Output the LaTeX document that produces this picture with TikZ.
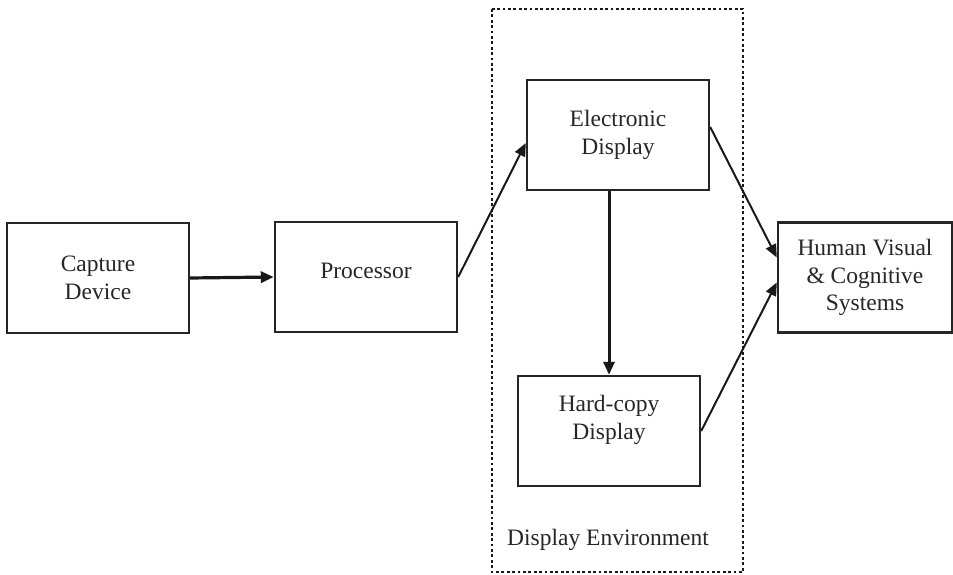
\documentclass[tikz,border=0pt]{standalone}
\usepackage{fontspec}
\setmainfont{Liberation Serif}
\usetikzlibrary{arrows.meta,calc}
\begin{document}
\begin{tikzpicture}[x=1pt,y=-1pt,
  box/.style={draw=black!85,line width=2.4pt,minimum width=182pt,minimum height=110pt,inner sep=0pt,
    align=center,font=\fontsize{23.5}{27.5}\selectfont,text=black!85},
  txt/.style={align=center,font=\fontsize{23.5}{27.5}\selectfont,text=black!85,inner sep=0pt},
  conn/.style={line width=2pt,draw=black!90,-{Triangle[length=13pt,width=11pt]}},
  envbox/.style={line width=2.8pt,dash pattern=on 2.8pt off 2.6pt,draw=black!90}]
\useasboundingbox (0,0) rectangle (953,575);
\draw[envbox] (492,9) rectangle (743,572);
\node[box] (cap) at (98,278) {Capture\\Device};
\node[box] (proc) at (366,277) {};
\node[txt] (proct) at (366,271) {Processor};
\node[box] (elec) at (618,135) {Electronic\\Display};
\node[box] (hard) at (609,431) {};
\node[txt] (hardt) at (609,420) {Hard-copy\\Display};
\node[box,minimum width=174pt] (hum) at (865,277.5) {Human Visual\\\& Cognitive\\Systems};
\node[txt] (env) at (608,540) {Display Environment};
\draw[conn,line width=3.2pt] (cap.east) -- (proc.west);
\draw[conn] (proc.east) -- ([yshift=-8pt]elec.west);
\draw[conn,line width=3pt] (elec.south -| hard.north) -- (hard.north);
\draw[conn] ([yshift=8pt]elec.east) -- ([yshift=20pt]hum.west);
\draw[conn] (hard.east) -- ([yshift=-5pt]hum.west);
\end{tikzpicture}
\end{document}
